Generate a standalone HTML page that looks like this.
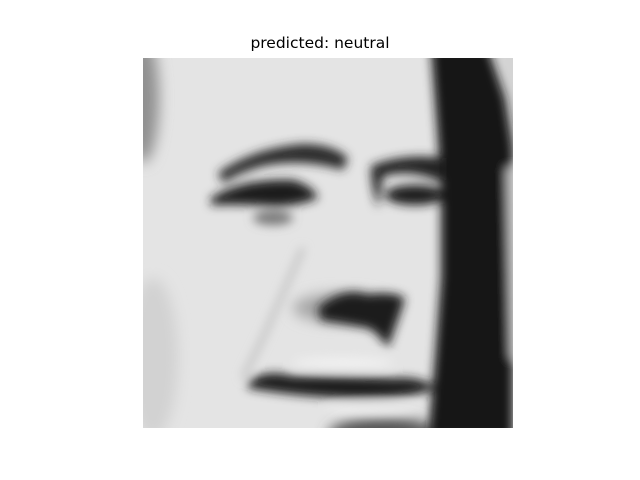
<!DOCTYPE html>
<html><head><meta charset="utf-8"><style>
html,body{margin:0;padding:0;background:#fff;width:640px;height:480px;overflow:hidden}
#title{position:absolute;left:0;width:640px;top:34px;text-align:center;font:15.5px "DejaVu Sans","Liberation Sans",sans-serif;color:#000}
svg{position:absolute;left:143px;top:58px}
</style></head><body>
<div id="title">predicted: neutral</div>
<svg width="370" height="370" viewBox="0 0 370 370">
<defs>
<filter id="b" x="-20%" y="-20%" width="140%" height="140%"><feGaussianBlur stdDeviation="7"/></filter>
<filter id="s" x="-20%" y="-20%" width="140%" height="140%"><feGaussianBlur stdDeviation="5"/></filter>
<clipPath id="c"><rect width="370" height="370"/></clipPath>
</defs>
<rect width="370" height="370" fill="#e4e4e4"/>
<g clip-path="url(#c)">
<g filter="url(#b)">
<ellipse cx="0" cy="40" rx="16" ry="65" fill="#909090"/>
<ellipse cx="10" cy="300" rx="25" ry="80" fill="#d2d2d2"/>
<rect x="352" y="-20" width="40" height="110" fill="#d4d4d4"/>
<ellipse cx="240" cy="378" rx="55" ry="20" fill="#555"/>
<ellipse cx="200" cy="250" rx="50" ry="15" fill="#a5a5a5"/>
</g>
<g filter="url(#s)">
<polygon points="288,-10 345,-10 362,40 370,90 370,380 285,380 292,300 298,220 298,130 294,70" fill="#121212"/>
<polygon points="363,110 372,110 372,300 367,300" fill="#bbbbbb"/>
<path d="M75,115 Q110,90 160,86 Q190,86 205,100 L200,112 Q160,100 120,108 Q95,115 80,125 Z" fill="#2a2a2a"/>
<path d="M68,140 Q100,120 150,122 Q170,128 175,140 Q150,150 125,148 Q95,146 68,147 Z" fill="#1e1e1e"/>
<ellipse cx="130" cy="160" rx="20" ry="7" fill="#777"/>
<path d="M228,108 Q260,95 300,100 L300,125 Q270,110 240,118 L235,150 Q228,130 228,108 Z" fill="#222"/>
<ellipse cx="272" cy="137" rx="30" ry="10" fill="#1e1e1e"/>
<path d="M175,250 Q200,228 225,237 Q250,233 262,240 Q255,262 245,290 Q235,275 225,270 Q200,265 178,262 Z" fill="#1a1a1a"/>
<path d="M105,325 Q120,310 150,318 Q200,318 250,320 Q280,318 292,330 Q270,342 200,340 Q150,338 105,330 Z" fill="#1e1e1e"/>
<ellipse cx="200" cy="305" rx="50" ry="6" fill="#f0f0f0"/>
<ellipse cx="230" cy="352" rx="45" ry="6" fill="#eeeeee"/>
<path d="M160,190 L120,280 L100,320" stroke="#b5b5b5" stroke-width="4" fill="none"/>
</g>
</g>
</svg>
</body></html>
